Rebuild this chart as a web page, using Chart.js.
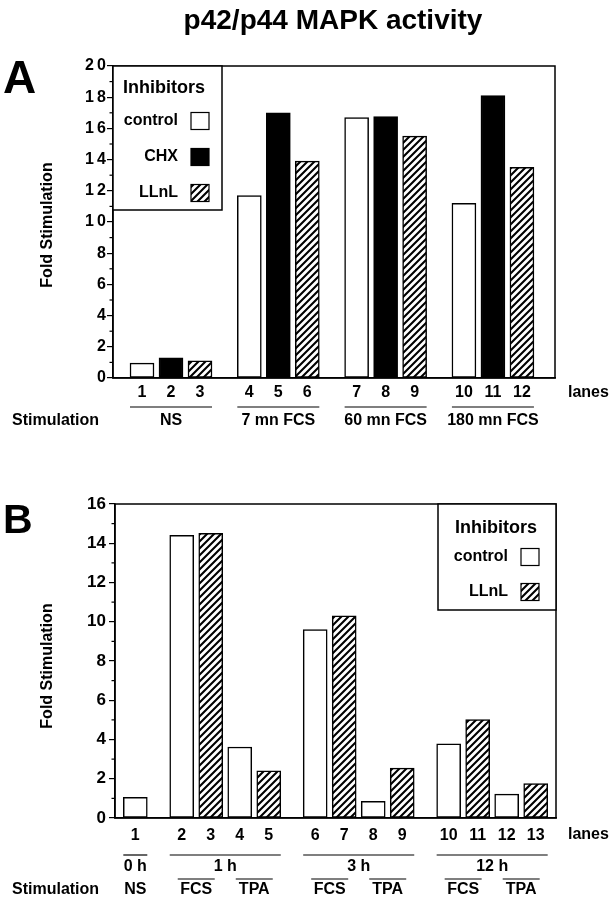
<!DOCTYPE html>
<html>
<head>
<meta charset="utf-8">
<script src="https://cdn.jsdelivr.net/npm/chart.js@4.4.1/dist/chart.umd.min.js"></script>
<style>
  body { margin: 0; background: #fff; width: 610px; height: 900px; overflow: hidden; }
  .panel { position: absolute; left: 0; width: 610px; }
</style>
</head>
<body>
<div class="panel" style="top:0;height:440px"><canvas id="chartA"></canvas></div>
<div class="panel" style="top:440px;height:460px"><canvas id="chartB"></canvas></div>
<script>
// ---- panel A data ----
const lanesA = ['1', '2', '3', '4', '5', '6', '7', '8', '9', '10', '11', '12'];
const groupOfLaneA = [0, 0, 0, 1, 1, 1, 2, 2, 2, 3, 3, 3];
const groupsA = ['NS', '7 mn FCS', '60 mn FCS', '180 mn FCS'];
const controlLanesA = [1, 4, 7, 10];
const controlA = [0.95, 11.7, 16.7, 11.2];
const chxLanesA = [2, 5, 8, 11];
const chxA = [1.3, 17.0, 16.75, 18.1];
const llnlLanesA = [3, 6, 9, 12];
const llnlA = [1.1, 13.9, 15.5, 13.5];

// ---- panel B data ----
const lanesB = ['1', '2', '3', '4', '5', '6', '7', '8', '9', '10', '11', '12', '13'];
const timeOfLaneB = [0, 1, 1, 1, 1, 2, 2, 2, 2, 3, 3, 3, 3];
const timesB = ['0 h', '1 h', '3 h', '12 h'];
const stimOfLaneB = ['NS', 'FCS', 'FCS', 'TPA', 'TPA', 'FCS', 'FCS', 'TPA', 'TPA', 'FCS', 'FCS', 'TPA', 'TPA'];
const controlLanesB = [1, 2, 4, 6, 8, 10, 12];
const controlB = [1.05, 14.4, 3.62, 9.6, 0.85, 3.78, 1.22];
const llnlLanesB = [3, 5, 7, 9, 11, 13];
const llnlB = [14.5, 2.4, 10.3, 2.54, 5.02, 1.75];

const FONT = '"Liberation Sans", Arial, Helvetica, sans-serif';

// lane -> x value, groups pushed apart a little
const posA = lane => lane + 0.7 * groupOfLaneA[lane - 1];
const posB = lane => lane + 0.6 * timeOfLaneB[lane - 1];

function makeHatch() {
    const c = document.createElement('canvas');
    c.width = 7; c.height = 7;
    const g = c.getContext('2d');
    g.fillStyle = '#fff';
    g.fillRect(0, 0, 7, 7);
    g.strokeStyle = '#000';
    g.lineWidth = 2.1;
    g.beginPath();
    g.moveTo(-1, 8); g.lineTo(8, -1);
    g.moveTo(-1, 1); g.lineTo(1, -1);
    g.moveTo(6, 8); g.lineTo(8, 6);
    g.stroke();
    return g.createPattern(c, 'repeat');
}
const hatch = makeHatch();

function barSet(label, lanes, values, pos, fill) {
    return {
        label: label,
        data: lanes.map((l, i) => ({ x: pos(l), y: values[i] })),
        backgroundColor: fill,
        borderColor: '#000',
        borderWidth: 1.5,
        borderSkipped: false,
        barThickness: 24,
        grouped: false,
    };
}

// runs of consecutive lanes sharing the same key
function runs(keys) {
    const out = [];
    keys.forEach((k, i) => {
        const last = out[out.length - 1];
        if (last && last.key === k) last.last = i + 1;
        else out.push({ key: k, first: i + 1, last: i + 1 });
    });
    return out;
}

const panelDecor = {
    id: 'panelDecor',
    afterDraw(chart, args, o) {
        const { ctx, chartArea: a, scales: { x, y } } = chart;
        ctx.save();
        ctx.strokeStyle = '#000';
        ctx.fillStyle = '#000';
        ctx.lineWidth = 1.5;
        ctx.strokeRect(a.left, a.top, a.right - a.left, a.bottom - a.top);

        // minor ticks (shorter)
        ctx.lineWidth = 1.2;
        for (let v = 1; v < y.max; v += 2) {
            const py = y.getPixelForValue(v);
            ctx.beginPath();
            ctx.moveTo(a.left - 3.5, py);
            ctx.lineTo(a.left, py);
            ctx.stroke();
        }

        // panel letter
        ctx.font = 'bold ' + o.letterSize + 'px ' + FONT;
        ctx.textAlign = 'left';
        ctx.textBaseline = 'alphabetic';
        ctx.fillText(o.letter, 3, o.letterY);

        // y title
        ctx.save();
        ctx.translate(48, o.yTitleY);
        ctx.rotate(-Math.PI / 2);
        ctx.font = 'bold 16px ' + FONT;
        ctx.textAlign = 'center';
        ctx.textBaseline = 'middle';
        ctx.fillText('Fold Stimulation', 0, 0);
        ctx.restore();

        ctx.textBaseline = 'middle';
        ctx.font = 'bold 16px ' + FONT;
        ctx.textAlign = 'left';
        ctx.fillText('lanes', 568, o.lanesY);
        ctx.fillText('Stimulation', 12, o.stimY);

        // group lines and labels
        ctx.textAlign = 'center';
        ctx.lineWidth = 1.2;
        o.rows.forEach(row => {
            row.runs.forEach(r => {
                const x1 = x.getPixelForValue(row.pos(r.first));
                const x2 = x.getPixelForValue(row.pos(r.last));
                const mid = (x1 + x2) / 2;
                if (!row.skipSingle || r.last > r.first) {
                    const l = row.half ? mid - row.half : x1 - 12;
                    const rr = row.half ? mid + row.half : x2 + 12;
                    ctx.beginPath();
                    ctx.moveTo(l, row.lineY);
                    ctx.lineTo(rr, row.lineY);
                    ctx.stroke();
                }
                ctx.fillText(row.labels(r), mid, row.textY);
            });
        });

        // legend box
        const b = o.legend;
        ctx.fillStyle = '#fff';
        ctx.fillRect(b.x1, b.y1, b.x2 - b.x1, b.y2 - b.y1);
        ctx.lineWidth = 1.5;
        ctx.strokeRect(b.x1, b.y1, b.x2 - b.x1, b.y2 - b.y1);
        ctx.fillStyle = '#000';
        ctx.font = 'bold 18px ' + FONT;
        ctx.textAlign = 'center';
        ctx.fillText('Inhibitors', b.titleX, b.titleY);
        ctx.font = 'bold 16px ' + FONT;
        ctx.textAlign = 'right';
        chart.data.datasets.forEach((ds, i) => {
            const yy = b.itemY[i];
            ctx.fillStyle = '#000';
            ctx.fillText(ds.label, b.textRight, yy);
            ctx.fillStyle = ds.backgroundColor;
            ctx.fillRect(b.swX, yy - 8.5, 18, 17);
            ctx.lineWidth = 1.2;
            ctx.strokeRect(b.swX, yy - 8.5, 18, 17);
        });
        ctx.restore();
    }
};

const titlePlugin = {
    id: 'titleText',
    afterDraw(chart) {
        const ctx = chart.ctx;
        ctx.save();
        ctx.fillStyle = '#000';
        ctx.font = 'bold 28px ' + FONT;
        ctx.textAlign = 'center';
        ctx.textBaseline = 'alphabetic';
        ctx.fillText('p42/p44 MAPK activity', 333, 29);
        ctx.restore();
    }
};

function axes(pos, laneLabels, xMin, xMax, yMax, yLabel, padX, padY, ySize) {
    const positions = laneLabels.map((l, i) => pos(i + 1));
    return {
        x: {
            type: 'linear', min: xMin, max: xMax, offset: false,
            grid: { display: false, drawTicks: false },
            border: { display: true, color: '#000', width: 1.5 },
            afterBuildTicks: s => { s.ticks = positions.map(v => ({ value: v })); },
            afterFit: s => { s.height = 40; },
            ticks: {
                autoSkip: false, maxRotation: 0, padding: padX, color: '#000',
                font: { family: FONT, size: 16, weight: 'bold' },
                callback: (v, i) => laneLabels[i],
            },
        },
        y: {
            min: 0, max: yMax,
            grid: {
                drawOnChartArea: false, drawTicks: true, tickLength: 6, color: '#000', lineWidth: 1.2,
                tickColor: c => (c.tick && c.tick.value % 2) ? 'rgba(0,0,0,0)' : '#000',
            },
            border: { display: true, color: '#000', width: 1.5 },
            afterFit: s => { s.width = 60; },
            ticks: {
                stepSize: 1, autoSkip: false, padding: padY, color: '#000',
                font: { family: FONT, size: ySize, weight: 'bold' },
                callback: yLabel,
            },
        },
    };
}

new Chart(document.getElementById('chartA'), {
    type: 'bar',
    data: {
        datasets: [
            barSet('control', controlLanesA, controlA, posA, '#fff'),
            barSet('CHX', chxLanesA, chxA, posA, '#000'),
            barSet('LLnL', llnlLanesA, llnlA, posA, hatch),
        ]
    },
    options: {
        responsive: true, maintainAspectRatio: false, animation: false,
        layout: { padding: { left: 53, right: 55, top: 66, bottom: 22 } },
        plugins: {
            legend: { display: false }, tooltip: { enabled: false },
            panelDecor: {
                letter: 'A', letterSize: 46, letterY: 93, yTitleY: 225,
                lanesY: 393, stimY: 421,
                rows: [{
                    runs: runs(groupOfLaneA), pos: posA, lineY: 407, textY: 421,
                    labels: r => groupsA[r.key],
                }],
                legend: {
                    x1: 113, y1: 66, x2: 222, y2: 210, titleX: 164, titleY: 88,
                    textRight: 178, swX: 191, itemY: [121, 157, 193],
                },
            },
        },
        scales: axes(posA, lanesA, 0, 15.24, 20,
            v => v % 2 ? '' : String(v).split('').join('\u2009'), 5, 1, 16),
    },
    plugins: [panelDecor, titlePlugin],
});

new Chart(document.getElementById('chartB'), {
    type: 'bar',
    data: {
        datasets: [
            barSet('control', controlLanesB, controlB, posB, '#fff'),
            barSet('LLnL', llnlLanesB, llnlB, posB, hatch),
        ]
    },
    options: {
        responsive: true, maintainAspectRatio: false, animation: false,
        layout: { padding: { left: 55, right: 54, top: 64, bottom: 42 } },
        plugins: {
            legend: { display: false }, tooltip: { enabled: false },
            panelDecor: {
                letter: 'B', letterSize: 41, letterY: 93, yTitleY: 226,
                lanesY: 395, stimY: 450,
                rows: [
                    {
                        runs: runs(timeOfLaneB), pos: posB, lineY: 415, textY: 427,
                        labels: r => timesB[r.key],
                    },
                    {
                        runs: runs(timeOfLaneB.map((t, i) => t + stimOfLaneB[i])), pos: posB,
                        lineY: 439, textY: 450, half: 18.5, skipSingle: true,
                        labels: r => stimOfLaneB[r.first - 1],
                    },
                ],
                legend: {
                    x1: 438, y1: 64, x2: 556, y2: 170, titleX: 496, titleY: 88,
                    textRight: 508, swX: 521, itemY: [117, 152],
                },
            },
        },
        scales: axes(posB, lanesB, 0.3, 15.5, 16, v => v % 2 ? '' : String(v), 8, 3, 17),
    },
    plugins: [panelDecor],
});
</script>
</body>
</html>
